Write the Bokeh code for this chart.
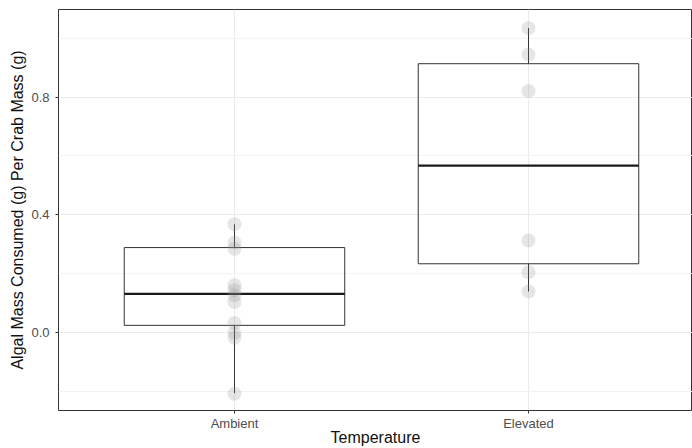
from bokeh.plotting import figure
from bokeh.models import FixedTicker, PrintfTickFormatter, Range1d, ColumnDataSource
from bokeh.embed import file_html
from bokeh.resources import INLINE

# ---- data ----
categories = ["Ambient", "Elevated"]
cat_pos = [1, 2]
ambient_vals = [0.368, 0.306, 0.285, 0.161, 0.144, 0.127, 0.104, 0.033, -0.001, -0.017, -0.207]
elevated_vals = [1.034, 0.944, 0.820, 0.313, 0.205, 0.140]
box_q1 = [0.025, 0.234]
box_median = [0.132, 0.567]
box_q3 = [0.289, 0.913]
whisker_low = [-0.205, 0.140]
whisker_high = [0.368, 1.034]
y_major_ticks = [0.0, 0.4, 0.8]
y_minor_ticks = [-0.2, 0.2, 0.6, 1.0]

FONT = "Liberation Sans"
BOX_W = 0.75

p = figure(width=692, height=448, output_backend="svg", toolbar_location=None,
           x_range=Range1d(0.4014, 2.5578), y_range=Range1d(-0.264, 1.097),
           min_border_left=58, min_border_right=0, min_border_top=9, min_border_bottom=38)
p.background_fill_color = "white"
p.border_fill_color = "white"
p.outline_line_color = "#333333"
p.outline_line_width = 1

# axes
p.xaxis.ticker = FixedTicker(ticks=cat_pos)
p.xaxis.major_label_overrides = {pos: lab for pos, lab in zip(cat_pos, categories)}
p.yaxis.ticker = FixedTicker(ticks=y_major_ticks, minor_ticks=y_minor_ticks)
p.yaxis.formatter = PrintfTickFormatter(format="%.1f")
for ax in (p.xaxis[0], p.yaxis[0]):
    ax.axis_line_color = None
    ax.major_tick_line_color = "#333333"
    ax.major_tick_in = 0
    ax.major_tick_out = 3
    ax.minor_tick_line_color = None
    ax.major_label_text_font = FONT
    ax.major_label_text_font_size = "13px"
    ax.major_label_text_color = "#4d4d4d"
    ax.axis_label_text_font = FONT
    ax.axis_label_text_font_size = "16px"
    ax.axis_label_text_font_style = "normal"
    ax.axis_label_text_color = "#111111"
p.xaxis.major_label_standoff = 2
p.xaxis.axis_label_standoff = -5
p.yaxis.major_label_standoff = 5
p.yaxis.axis_label_standoff = 2
p.xaxis.axis_label = "Temperature"
p.yaxis.axis_label = "Algal Mass Consumed (g) Per Crab Mass (g)"

# grid
p.xgrid.grid_line_color = "#ebebeb"
p.xgrid.grid_line_width = 1
p.ygrid.grid_line_color = "#ebebeb"
p.ygrid.grid_line_width = 1
p.ygrid.minor_grid_line_color = "#f2f2f2"
p.ygrid.minor_grid_line_width = 1

# whiskers
p.segment(x0=cat_pos, y0=box_q3, x1=cat_pos, y1=whisker_high, line_color="#333333", line_width=1)
p.segment(x0=cat_pos, y0=box_q1, x1=cat_pos, y1=whisker_low, line_color="#333333", line_width=1)

# boxes
lefts = [c - BOX_W / 2 for c in cat_pos]
rights = [c + BOX_W / 2 for c in cat_pos]
p.quad(left=lefts, right=rights, bottom=box_q1, top=box_q3,
       fill_color="white", fill_alpha=0.0, line_color="#333333", line_width=1)
p.segment(x0=lefts, y0=box_median, x1=rights, y1=box_median, line_color="#1a1a1a", line_width=2.2)

# points
src = ColumnDataSource(dict(
    x=[cat_pos[0]] * len(ambient_vals) + [cat_pos[1]] * len(elevated_vals),
    y=ambient_vals + elevated_vals))
p.scatter(x="x", y="y", source=src, size=14, fill_color="#8c8c8c", fill_alpha=0.22,
          line_color=None)

open("out.html", "w").write(file_html(p, INLINE))
